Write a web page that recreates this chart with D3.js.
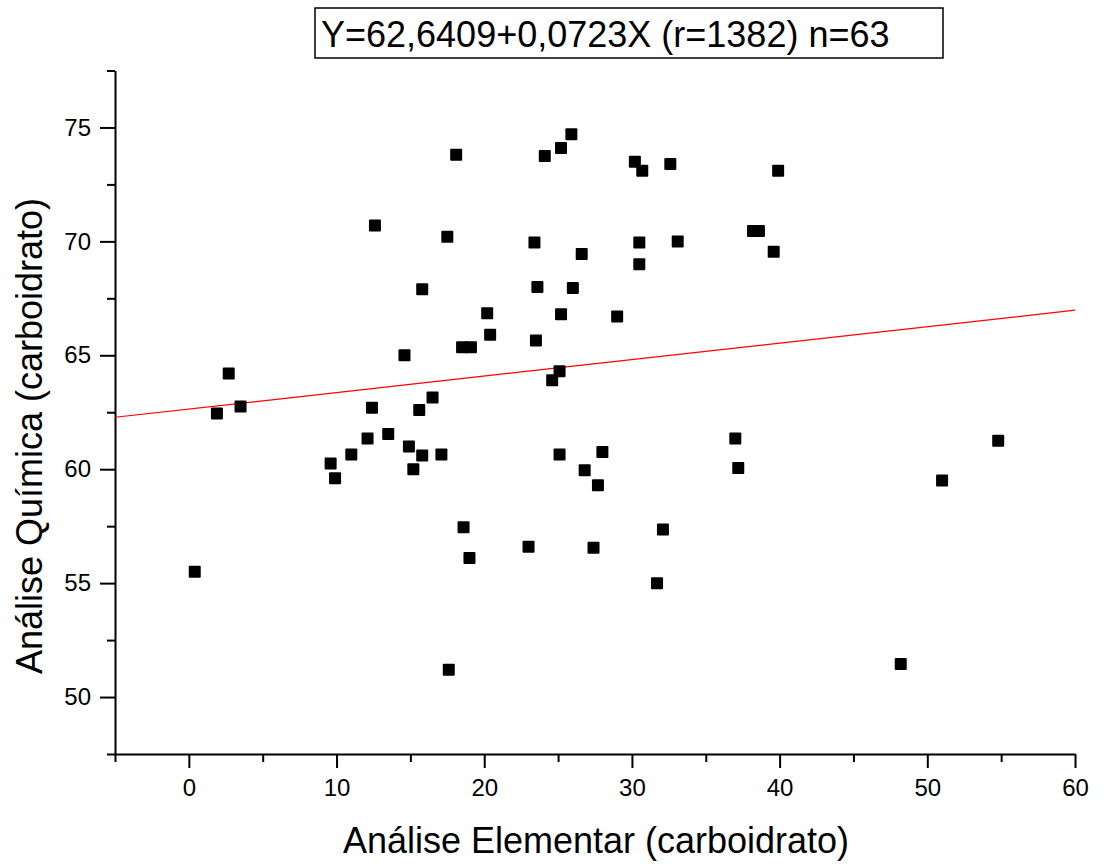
<!DOCTYPE html>
<html>
<head>
<meta charset="utf-8">
<script src="https://cdn.jsdelivr.net/npm/d3@7"></script>
<style>
  body { margin: 0; background: #fff; }
  text { font-family: "Liberation Sans", Arial, Helvetica, sans-serif; }
</style>
</head>
<body>
<div class="scatter"></div>
<script>
// Data
const elementar = [0.4, 1.9, 2.7, 3.5, 9.6, 9.9, 11.0, 12.1, 12.4, 12.6, 13.5, 14.6, 14.9, 15.2, 15.6,
    15.8, 15.8, 16.5, 17.1, 17.5, 17.6, 18.1, 18.5, 18.6, 19.1, 19.0, 20.2, 20.4, 23.0, 23.4,
    23.5, 23.6, 24.1, 24.6, 25.1, 25.2, 25.1, 25.2, 25.9, 26.0, 26.6, 26.8, 27.4, 27.7, 28.0,
    29.0, 30.2, 30.5, 30.5, 30.7, 31.7, 32.1, 32.6, 33.1, 37.0, 37.2, 38.2, 38.6, 39.6, 39.9,
    48.2, 51.0, 54.8];
const quimica = [55.5, 62.45, 64.2, 62.75, 60.25, 59.6, 60.65, 61.35, 62.7, 70.7, 61.55, 65.0, 61.0, 60.0, 62.6,
    60.6, 67.9, 63.15, 60.65, 70.2, 51.2, 73.8, 65.35, 57.45, 65.35, 56.1, 66.85, 65.9, 56.6, 69.95,
    65.65, 68.0, 73.75, 63.9, 64.3, 66.8, 60.65, 74.1, 74.7, 67.95, 69.45, 59.95, 56.55, 59.3, 60.75,
    66.7, 73.5, 69.95, 69.0, 73.1, 55.0, 57.35, 73.4, 70.0, 61.35, 60.05, 70.45, 70.45, 69.55, 73.1,
    51.45, 59.5, 61.25];
const xTicks = [0, 10, 20, 30, 40, 50, 60];
const xMinorTicks = [-5, 5, 15, 25, 35, 45, 55];
const yTicks = [50, 55, 60, 65, 70, 75];
const yMinorTicks = [47.5, 52.5, 57.5, 62.5, 67.5, 72.5, 77.5];
const fitIntercept = 62.6409;
const fitSlope = 0.0723;
const fitLabel = "Y=62,6409+0,0723X (r=1382) n=63";

const points = elementar.map((x, i) => ({ x: x, y: quimica[i] }));

const width = 1103;
const height = 866;
const margin = { top: 70.5, right: 28, bottom: 112, left: 115 };
const innerW = width - margin.left - margin.right;
const innerH = height - margin.top - margin.bottom;

const svg = d3.select(".scatter")
    .append("svg")
    .attr("width", width)
    .attr("height", height);

const g = svg.append("g")
    .attr("transform", "translate(" + margin.left + "," + margin.top + ")");

// Scales
const xScale = d3.scaleLinear().domain([-5, 60]).range([0, innerW]);
const yScale = d3.scaleLinear().domain([47.5, 77.5]).range([innerH, 0]);

// Minor ticks first, then major axes on top
g.append("g")
    .attr("transform", "translate(0," + innerH + ")")
    .call(d3.axisBottom(xScale).tickValues(xMinorTicks).tickSize(8).tickSizeOuter(0).tickFormat(""))
    .call(a => a.select(".domain").remove())
    .selectAll("line").attr("stroke-width", 2);
g.append("g")
    .call(d3.axisLeft(yScale).tickValues(yMinorTicks).tickSize(8).tickSizeOuter(0).tickFormat(""))
    .call(a => a.select(".domain").remove())
    .selectAll("line").attr("stroke-width", 2);

const xAxis = g.append("g")
    .attr("transform", "translate(0," + innerH + ")")
    .call(d3.axisBottom(xScale).tickValues(xTicks).tickSize(14).tickSizeOuter(0).tickPadding(11).tickFormat(d3.format("d")));
const yAxis = g.append("g")
    .call(d3.axisLeft(yScale).tickValues(yTicks).tickSize(15).tickSizeOuter(0).tickPadding(9).tickFormat(d3.format("d")));

[xAxis, yAxis].forEach(a => {
    a.select(".domain").attr("stroke-width", 2);
    a.selectAll("line").attr("stroke-width", 2);
    a.selectAll("text")
        .style("font-size", "24px")
        .attr("fill", "#000");
});

// Regression line
g.append("line")
    .attr("x1", xScale(-5))
    .attr("y1", yScale(fitIntercept + fitSlope * -5))
    .attr("x2", xScale(60))
    .attr("y2", yScale(fitIntercept + fitSlope * 60))
    .attr("stroke", "#ff0000")
    .attr("stroke-width", 1.2);

// Square markers
const side = 12;
g.selectAll(".pt")
    .data(points)
    .join("rect")
    .attr("class", "pt")
    .attr("x", d => xScale(d.x) - side / 2)
    .attr("y", d => yScale(d.y) - side / 2)
    .attr("width", side)
    .attr("height", side)
    .attr("rx", 1)
    .attr("fill", "#000");

// Axis titles
svg.append("text")
    .attr("x", 596)
    .attr("y", 853)
    .attr("text-anchor", "middle")
    .style("font-size", "36px")
    .text("Análise Elementar (carboidrato)");
svg.append("text")
    .attr("transform", "rotate(-90)")
    .attr("x", -436)
    .attr("y", 42)
    .attr("text-anchor", "middle")
    .style("font-size", "36px")
    .text("Análise Química (carboidrato)");

// Fit equation box
svg.append("rect")
    .attr("x", 315)
    .attr("y", 8)
    .attr("width", 628)
    .attr("height", 50)
    .attr("fill", "none")
    .attr("stroke", "#000")
    .attr("stroke-width", 1.5);
svg.append("text")
    .attr("x", 321)
    .attr("y", 47)
    .style("font-size", "36px")
    .text(fitLabel);
</script>
</body>
</html>
